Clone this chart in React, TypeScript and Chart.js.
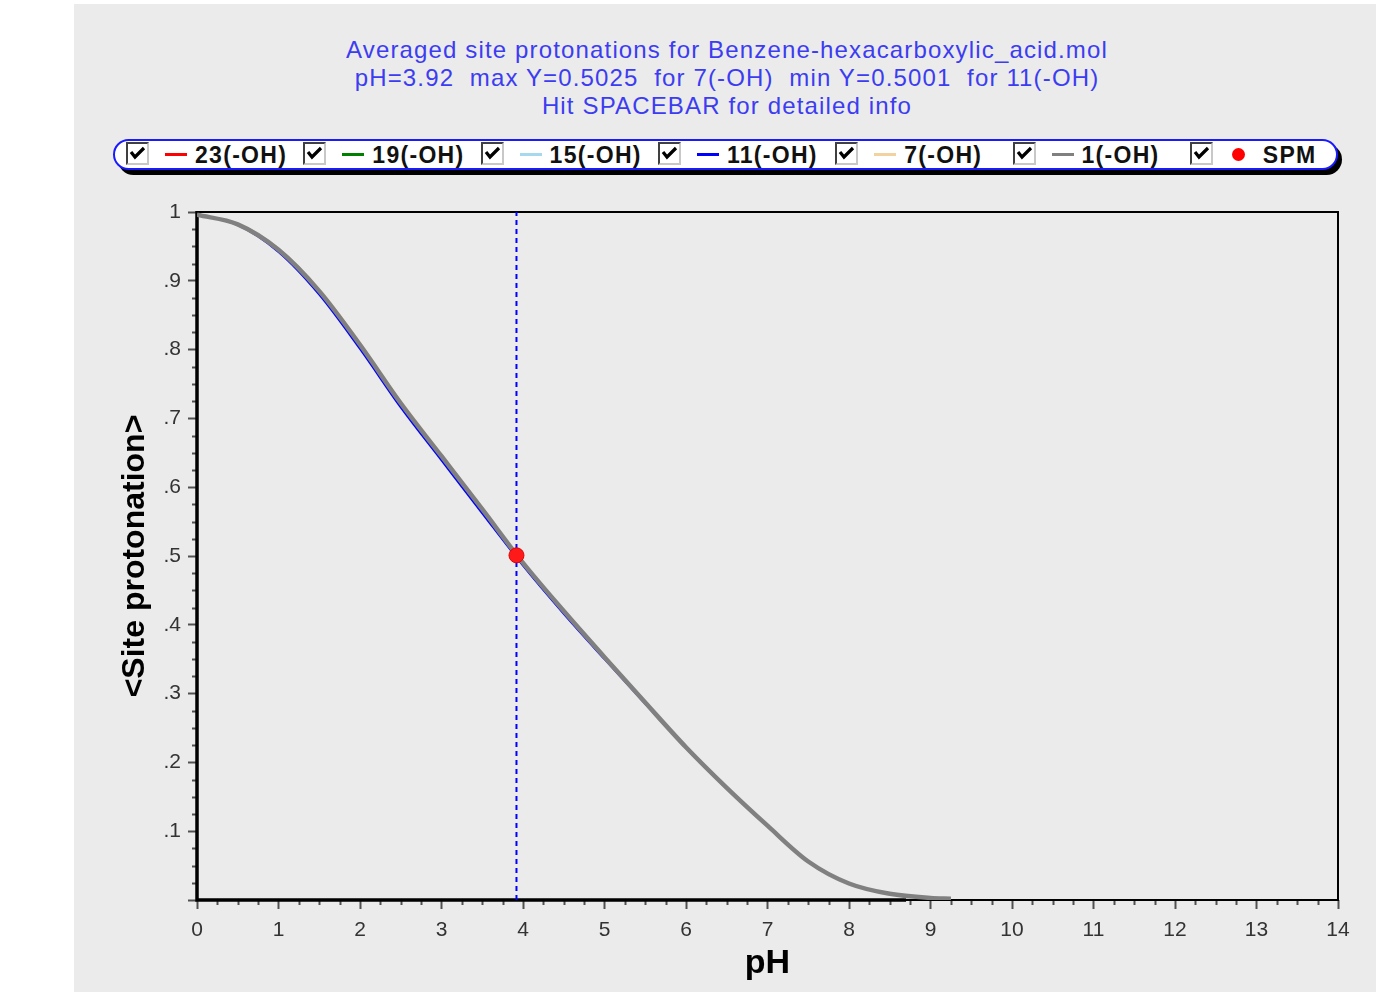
import React, { useEffect, useRef } from 'react';
import { Chart, registerables } from 'chart.js';

Chart.register(...registerables);

// ---- data ----
const phValues = [0, 0.5, 1, 1.5, 2, 2.5, 3, 3.5, 4, 4.5, 5, 5.5, 6, 6.5, 7, 7.5, 8, 8.5, 9, 9.25];
const site1Values = [0.996, 0.982, 0.945, 0.885, 0.807, 0.722, 0.645, 0.568, 0.49, 0.42, 0.353, 0.287, 0.222, 0.163, 0.108, 0.056, 0.024, 0.009, 0.003, 0.002];
const site7Values = [0.996, 0.983, 0.947, 0.888, 0.81, 0.725, 0.648, 0.57, 0.492, 0.422, 0.355, 0.288, 0.223, 0.164, 0.108, 0.056, 0.024, 0.009, 0.003, 0.002];
const site11Values = [0.996, 0.981, 0.942, 0.88, 0.801, 0.716, 0.639, 0.562, 0.486, 0.416, 0.35, 0.285, 0.221, 0.162, 0.108, 0.056, 0.024, 0.009, 0.003, 0.002];
// sites 23, 19 and 15 lie under the 1(-OH) curve
const site23Values = site1Values;
const site19Values = site1Values;
const site15Values = site1Values;

const spmPh = [3.92];
const spmValues = [0.501];
const markerPh = 3.92;

const titleLines = [
  'Averaged site protonations for Benzene-hexacarboxylic_acid.mol',
  'pH=3.92  max Y=0.5025  for 7(-OH)  min Y=0.5001  for 11(-OH)',
  'Hit SPACEBAR for detailed info',
];
const legendLabels = ['23(-OH)', '19(-OH)', '15(-OH)', '11(-OH)', '7(-OH)', '1(-OH)', 'SPM'];
const legendColors = ['#ff0000', '#008000', '#a6d8ee', '#0000ff', '#f2d3a0', '#808080', '#ff0000'];
const xTickValues = [0, 1, 2, 3, 4, 5, 6, 7, 8, 9, 10, 11, 12, 13, 14];
const yTickLabels = ['', '.1', '.2', '.3', '.4', '.5', '.6', '.7', '.8', '.9', '1'];

const toPoints = (xs: number[], ys: number[]) => xs.map((x, i) => ({ x, y: ys[i] }));

const frameAndTicks = {
  id: 'frameAndTicks',
  beforeDatasetsDraw(chart: any) {
    const { ctx, chartArea: a, scales } = chart;
    const xs = scales.x;
    const ys = scales.y;
    ctx.save();
    // minor ticks
    ctx.strokeStyle = '#505050';
    ctx.lineWidth = 2;
    ctx.beginPath();
    for (let i = 0; i <= 56; i++) {
      if (i % 4 === 0) continue;
      const px = Math.round(xs.getPixelForValue(i * 0.25)) + 0.5;
      ctx.moveTo(px, a.bottom);
      ctx.lineTo(px, a.bottom + 5);
    }
    for (let i = 0; i <= 40; i++) {
      if (i % 4 === 0) continue;
      const py = Math.round(ys.getPixelForValue(i * 0.025)) + 0.5;
      ctx.moveTo(a.left, py);
      ctx.lineTo(a.left - 5, py);
    }
    ctx.stroke();
    // frame
    ctx.strokeStyle = '#000';
    ctx.lineWidth = 2;
    ctx.strokeRect(a.left, a.top, a.right - a.left, a.bottom - a.top);
    ctx.lineWidth = 3.5;
    ctx.beginPath();
    ctx.moveTo(a.left, a.top - 1);
    ctx.lineTo(a.left, a.bottom);
    ctx.lineTo(xs.getPixelForValue(8.7), a.bottom);
    ctx.stroke();
    ctx.restore();
  },
};

function CheckBox() {
  return (
    <div
      style={{
        position: 'absolute',
        left: 0,
        top: 3,
        width: 23,
        height: 23,
        boxSizing: 'border-box',
        background: '#fff',
        borderLeft: '2px solid #404040',
        borderTop: '2px solid #404040',
        borderRight: '2px solid #c8c8c8',
        borderBottom: '2px solid #c8c8c8',
      }}
    >
      <svg width={19} height={19} style={{ position: 'absolute', left: 0, top: 0 }}>
        <polyline points="3,8 7,13 16,4" fill="none" stroke="#000" strokeWidth={3.2} />
      </svg>
    </div>
  );
}

export default function App() {
  const canvasRef = useRef<HTMLCanvasElement | null>(null);

  useEffect(() => {
    if (!canvasRef.current) return;
    const curve = (label: string, vals: number[], color: string, width: number, order: number) => ({
      type: 'line' as const,
      label,
      data: toPoints(phValues, vals),
      borderColor: color,
      backgroundColor: color,
      borderWidth: width,
      pointRadius: 0,
      cubicInterpolationMode: 'monotone' as const,
      order,
    });
    const chart = new Chart(canvasRef.current, {
      type: 'line',
      data: {
        datasets: [
          {
            type: 'scatter' as const,
            label: 'SPM',
            data: toPoints(spmPh, spmValues),
            pointRadius: 7.5,
            pointBackgroundColor: '#ff1a1a',
            pointBorderColor: '#e00000',
            pointBorderWidth: 1,
            order: 0,
          } as any,
          {
            type: 'line' as const,
            label: 'marker',
            data: [
              { x: markerPh, y: 0 },
              { x: markerPh, y: 1 },
            ],
            borderColor: '#0000ff',
            borderWidth: 2,
            borderDash: [5, 4],
            pointRadius: 0,
            order: 1,
          },
          curve('1(-OH)', site1Values, '#808080', 4.5, 2),
          curve('7(-OH)', site7Values, '#f2d3a0', 2, 3),
          curve('11(-OH)', site11Values, '#0000ff', 2, 4),
          curve('15(-OH)', site15Values, '#a6d8ee', 2, 5),
          curve('19(-OH)', site19Values, '#008000', 2, 6),
          curve('23(-OH)', site23Values, '#ff0000', 2, 7),
        ],
      },
      options: {
        animation: false,
        responsive: false,
        events: [],
        layout: { padding: { left: 0, right: 38, top: 32, bottom: 0 } },
        plugins: { legend: { display: false }, tooltip: { enabled: false }, title: { display: false } },
        scales: {
          x: {
            type: 'linear',
            min: 0,
            max: 14,
            afterFit: (s: any) => {
              s.height = 92;
            },
            afterBuildTicks: (s: any) => {
              s.ticks = xTickValues.map((v) => ({ value: v }));
            },
            ticks: {
              color: '#333',
              font: { family: 'Liberation Sans', size: 21 },
              padding: 9,
              maxRotation: 0,
              autoSkip: false,
              callback: (v: any) => String(v),
            },
            grid: { display: true, drawOnChartArea: false, drawTicks: true, tickLength: 9, tickColor: '#505050', tickWidth: 2 },
            border: { display: false },
            title: {
              display: true,
              text: 'pH',
              color: '#000',
              font: { family: 'Liberation Sans', size: 34, weight: 'bold' },
              padding: { top: 0, bottom: 8 },
            },
          },
          y: {
            type: 'linear',
            min: 0,
            max: 1,
            afterFit: (s: any) => {
              s.width = 123;
            },
            afterBuildTicks: (s: any) => {
              s.ticks = yTickLabels.map((_, i) => ({ value: i / 10 }));
            },
            ticks: {
              color: '#333',
              font: { family: 'Liberation Sans', size: 21 },
              padding: 7,
              autoSkip: false,
              callback: (_v: any, i: number) => yTickLabels[i],
            },
            grid: { display: true, drawOnChartArea: false, drawTicks: true, tickLength: 9, tickColor: '#505050', tickWidth: 2 },
            border: { display: false },
            title: {
              display: true,
              text: '<Site protonation>',
              color: '#000',
              font: { family: 'Liberation Sans', size: 32, weight: 'bold' },
              padding: { top: 42, bottom: 0 },
            },
          },
        },
      },
      plugins: [frameAndTicks],
    });
    return () => chart.destroy();
  }, []);

  const slot = 177.3;
  return (
    <div style={{ position: 'fixed', left: 0, top: 0, width: 1376, height: 992, background: '#fff', overflow: 'hidden' }}>
      <div style={{ position: 'absolute', left: 74, top: 4, width: 1302, height: 988, background: '#ebebeb' }} />
      <div
        style={{
          position: 'absolute',
          left: 74,
          top: 36,
          width: 1306,
          textAlign: 'center',
          color: '#3c3cf2',
          fontFamily: 'Liberation Sans',
          fontSize: 24,
          letterSpacing: 1.15,
          lineHeight: '28px',
          whiteSpace: 'pre',
        }}
      >
        {titleLines.map((t) => (
          <div key={t}>{t}</div>
        ))}
      </div>
      {/* legend */}
      <div
        style={{
          position: 'absolute',
          left: 118,
          top: 144,
          width: 1224,
          height: 31,
          background: '#000',
          borderRadius: '16px',
        }}
      />
      <div
        style={{
          position: 'absolute',
          left: 113,
          top: 139,
          width: 1225,
          height: 31,
          boxSizing: 'border-box',
          background: '#fff',
          border: '2px solid #1a1aff',
          borderRadius: '16px',
        }}
      >
        {legendLabels.map((label, i) => {
          const isSpm = label === 'SPM';
          return (
            <div key={label} style={{ position: 'absolute', left: 11 + i * slot, top: -2, height: 31 }}>
              <CheckBox />
              {isSpm ? (
                <div
                  style={{
                    position: 'absolute',
                    left: 42,
                    top: 9,
                    width: 13,
                    height: 13,
                    borderRadius: '50%',
                    background: legendColors[i],
                  }}
                />
              ) : (
                <div
                  style={{
                    position: 'absolute',
                    left: 39,
                    top: 14,
                    width: 22,
                    height: 3,
                    background: legendColors[i],
                  }}
                />
              )}
              <div
                style={{
                  position: 'absolute',
                  left: isSpm ? 73 : 69,
                  top: 2,
                  fontFamily: 'Liberation Sans',
                  fontWeight: 'bold',
                  fontSize: 23,
                  letterSpacing: 1.3,
                  lineHeight: '28px',
                  color: '#111',
                  whiteSpace: 'nowrap',
                }}
              >
                {label}
              </div>
            </div>
          );
        })}
      </div>
      <canvas
        ref={canvasRef}
        width={1302}
        height={812}
        style={{ position: 'absolute', left: 74, top: 180, width: 1302, height: 812 }}
      />
    </div>
  );
}
